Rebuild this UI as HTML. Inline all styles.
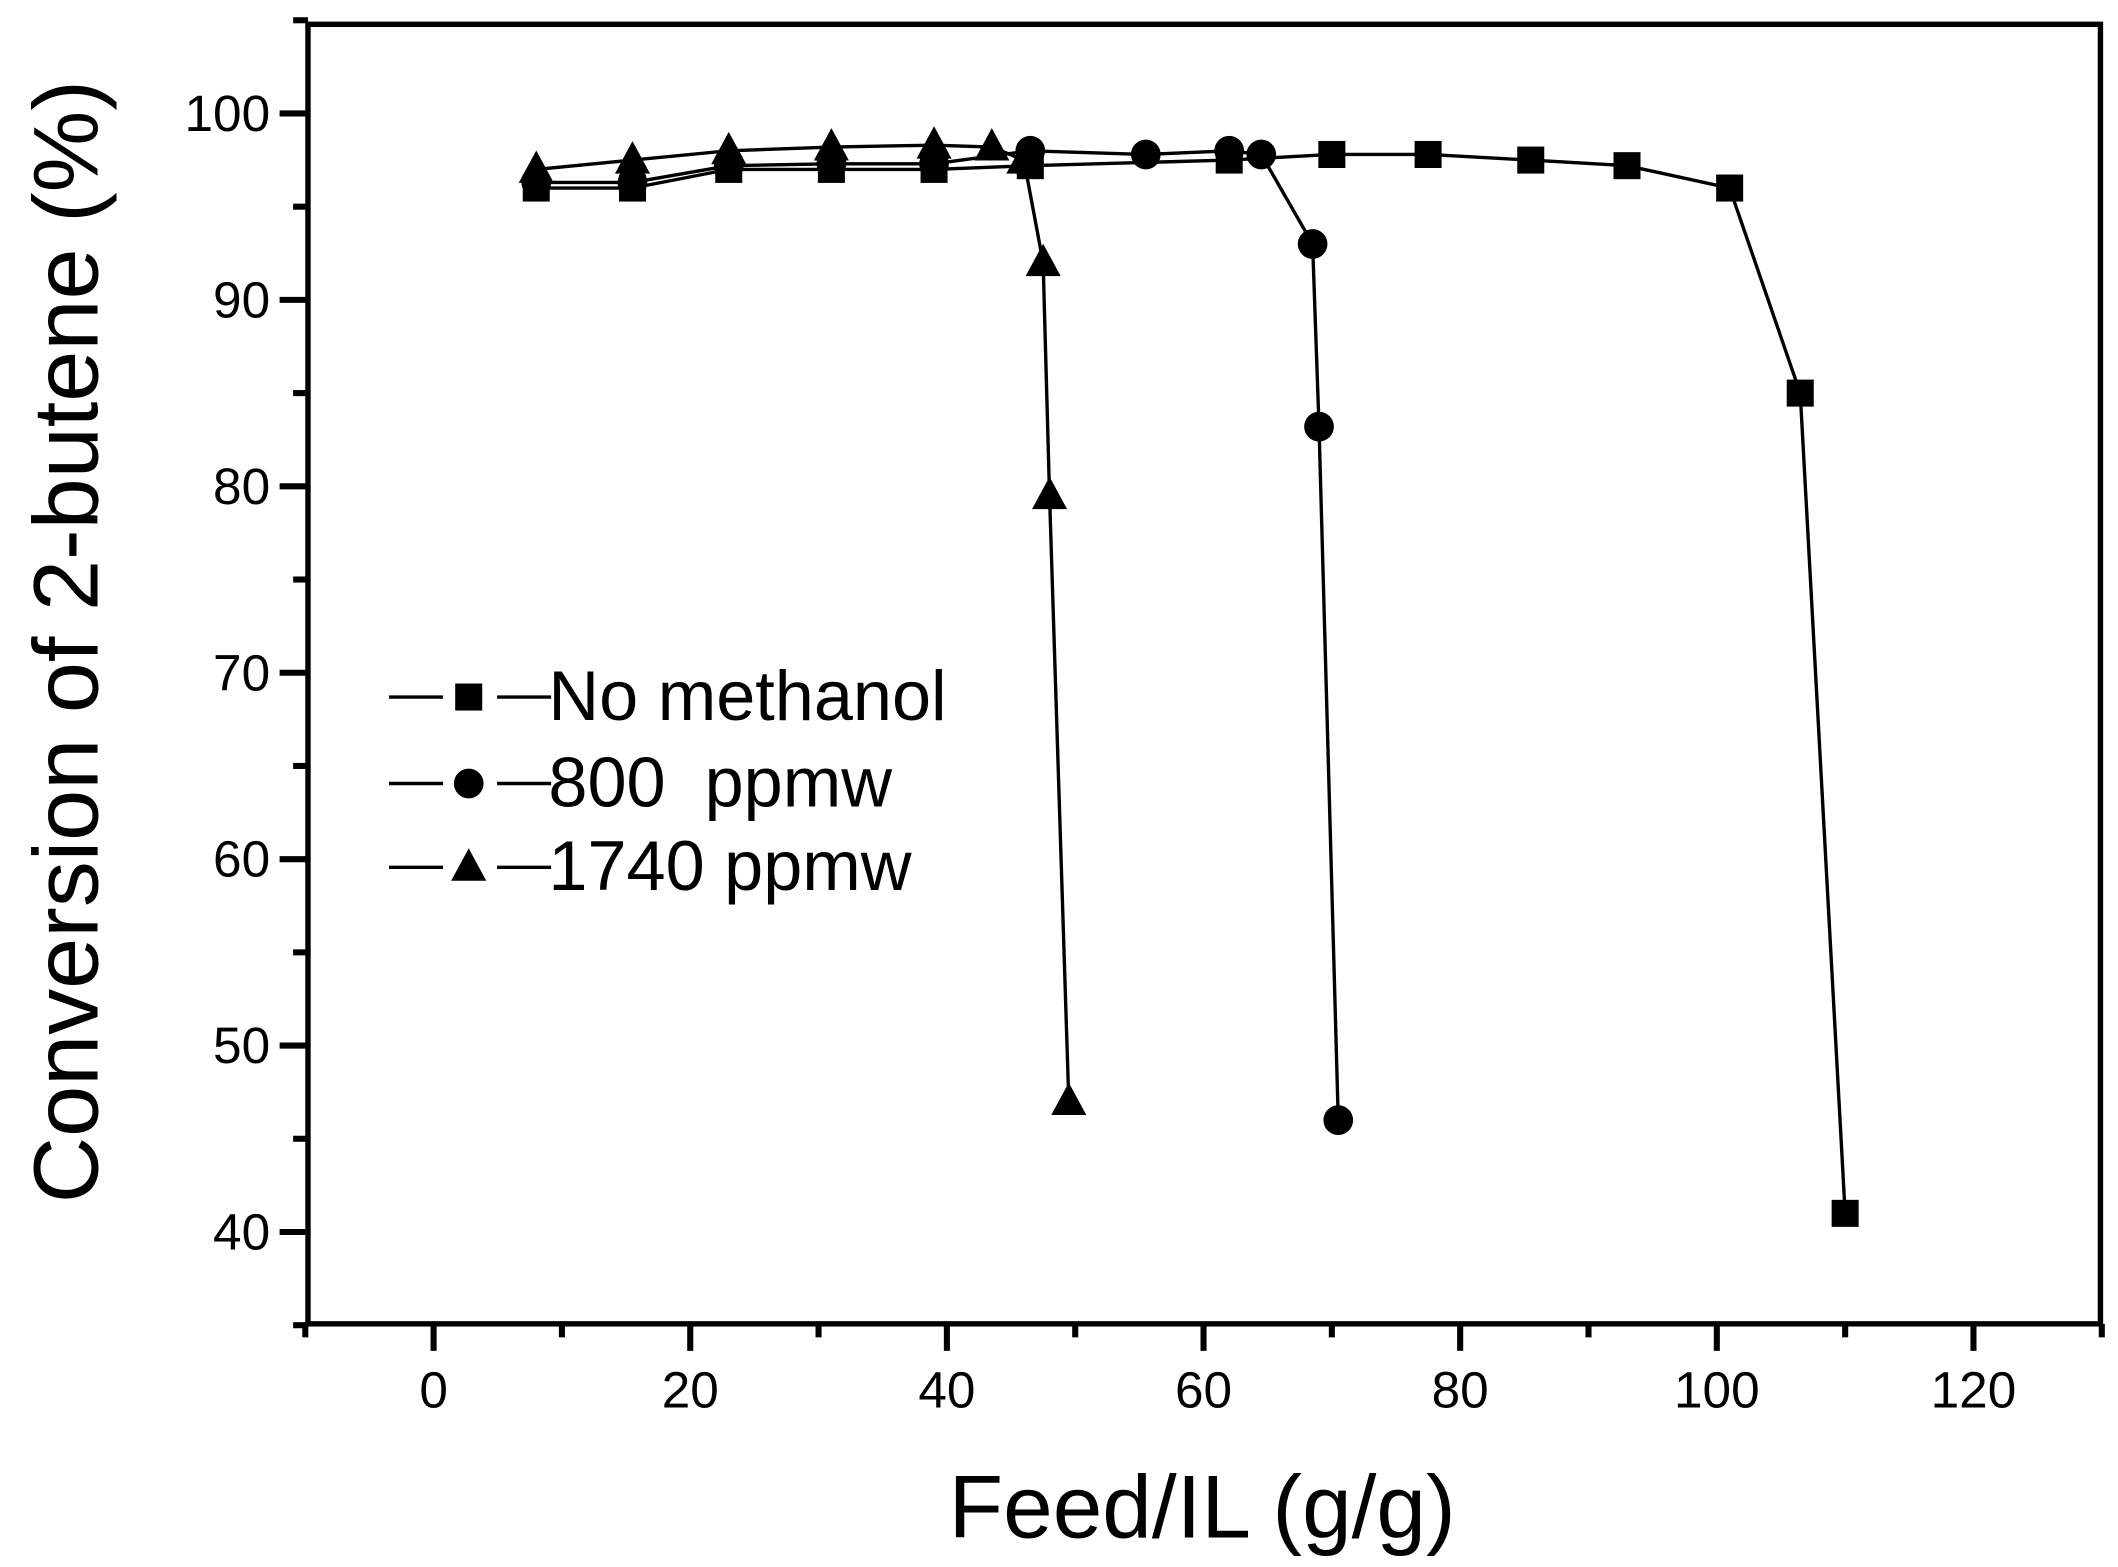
<!DOCTYPE html>
<html><head><meta charset="utf-8"><style>html,body{margin:0;padding:0;background:#fff}svg{display:block}</style></head>
<body>
<svg id="s" xmlns="http://www.w3.org/2000/svg" width="2118" height="1567" viewBox="0 0 1568 1160" preserveAspectRatio="none" font-family="Liberation Sans, Arial, sans-serif">
<rect width="1568" height="1160" fill="#fff"/>
<g id="g"></g>
<text x="890" y="1138" font-size="66" text-anchor="middle">Feed/IL (g/g)</text>
<text transform="translate(72,475) rotate(-90)" font-size="68" text-anchor="middle">Conversion of 2-butene (%)</text>
<g font-size="52">
<text x="406" y="533">No methanol</text>
<text x="406" y="597">800&#160;&#160;ppmw</text>
<text x="406" y="659">1740 ppmw</text>
</g>
</svg>
<script>
const X=v=>321+(v)*9.5, Y=v=>84+(100-v)*13.8;
let h='';
h+='<rect x="228" y="18" width="1327" height="962" fill="none" stroke="#000" stroke-width="4"/>';
for(let v=-10;v<=130;v+=10){const x=X(v);const maj=v%20==0;h+=`<line x1="${x}" y1="980" x2="${x}" y2="${maj?1000:990}" stroke="#000" stroke-width="4.5"/>`;if(maj&&v>=0&&v<=120)h+=`<text x="${x}" y="1042" font-size="38" text-anchor="middle">${v}</text>`;}
for(let v=35;v<=105;v+=5){const y=Y(v);const maj=v%10==0;h+=`<line x1="228" y1="${y}" x2="${maj?207:217}" y2="${y}" stroke="#000" stroke-width="4.5"/>`;if(maj&&v>=40&&v<=100)h+=`<text x="200" y="${y+13}" font-size="38" text-anchor="end">${v}</text>`;}
const sq=[[8,96],[15.5,96],[23,97],[31,97],[39,97],[46.5,97.2],[62,97.5],[70,97.8],[77.5,97.8],[85.5,97.5],[93,97.2],[101,96],[106.5,85],[110,41]];
const ci=[[8,96.3],[15.5,96.3],[23,97.2],[31,97.3],[39,97.3],[46.5,98],[55.5,97.8],[62,98],[64.5,97.8],[68.5,93],[69,83.2],[70.5,46]];
const tr=[[8,97],[15.5,97.5],[23,98],[31,98.2],[39,98.3],[43.5,98.2],[46,97.5],[47.5,92],[48,79.5],[49.5,47]];
function line(d){return `<polyline fill="none" stroke="#000" stroke-width="2.5" points="${d.map(p=>X(p[0])+','+Y(p[1])).join(' ')}"/>`;}
function msq(x,y){return `<rect x="${x-10}" y="${y-10}" width="20" height="20" fill="#000"/>`;}
function mci(x,y){return `<circle cx="${x}" cy="${y}" r="11" fill="#000"/>`;}
function mtr(x,y){return `<polygon points="${x},${y-14} ${x-13},${y+10} ${x+13},${y+10}" fill="#000"/>`;}
h+=line(sq)+line(ci)+line(tr);
sq.forEach(p=>h+=msq(X(p[0]),Y(p[1])));
ci.forEach(p=>h+=mci(X(p[0]),Y(p[1])));
tr.forEach(p=>h+=mtr(X(p[0]),Y(p[1])));
[[516,msq],[580,mci],[642,mtr]].forEach(([y,f])=>{h+=`<line x1="288" y1="${y}" x2="328" y2="${y}" stroke="#000" stroke-width="2.5"/><line x1="368" y1="${y}" x2="408" y2="${y}" stroke="#000" stroke-width="2.5"/>`+f(347,y);});
document.getElementById('g').innerHTML=h;
</script>
</body></html>
